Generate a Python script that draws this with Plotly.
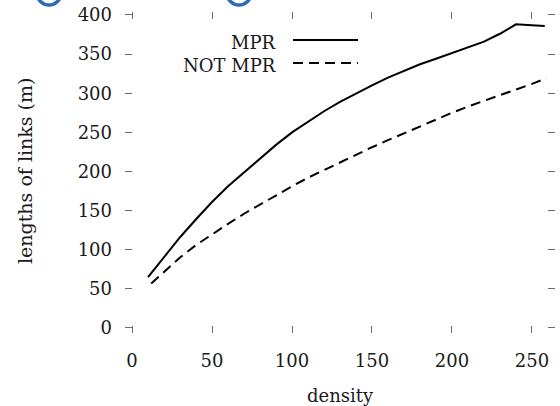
import plotly.graph_objects as go

density = [10, 20, 30, 40, 50, 60, 70, 80, 90, 100, 110, 120, 130, 140, 150,
           160, 170, 180, 190, 200, 210, 220, 230, 240, 250, 258]
mpr = [65, 91, 116, 139, 161, 181, 199, 217, 234, 250, 264, 277, 289, 300, 310,
       320, 329, 337, 344, 351, 358, 366, 376, 388, 387, 386]

density_not = [12, 20, 30, 40, 50, 60, 70, 80, 90, 100, 110, 120, 130, 140, 150,
               160, 170, 180, 190, 200, 210, 220, 230, 240, 250, 259]
not_mpr = [57, 72, 90, 106, 120, 133, 146, 158, 170, 181, 192, 202, 212, 222, 231,
           240, 249, 258, 266, 275, 283, 290, 297, 305, 312, 319]

names = ["MPR", "NOT MPR"]
x_ticks = [0, 50, 100, 150, 200, 250]
y_ticks = [0, 50, 100, 150, 200, 250, 300, 350, 400]

W, H = 560, 406
L, R, T, B = 125, 555, 12, 333
FONT = dict(family="DejaVu Serif", size=18, color="#1a1a1a")

def px(xp):
    return (xp - L) / (R - L)

def py(yp):
    return (B - yp) / (B - T)

fig = go.Figure()
fig.add_trace(go.Scatter(x=density, y=mpr, mode="lines", name=names[0],
                         line=dict(color="black", width=2)))
fig.add_trace(go.Scatter(x=density_not, y=not_mpr, mode="lines", name=names[1],
                         line=dict(color="black", width=2, dash="10px,6px")))

axis_common = dict(showgrid=False, zeroline=False, showline=False,
                   ticks="inside", ticklen=7, tickwidth=1, tickcolor="#6a6a6a",
                   mirror="ticks", tickfont=FONT)

fig.update_xaxes(range=[-4.4, 264.4], tickvals=x_ticks, ticklabelstandoff=15,
                 **axis_common)
fig.update_yaxes(range=[-6.4, 403.8], tickvals=y_ticks, ticklabelstandoff=12,
                 **axis_common)

shapes = []
annotations = []
# legend (gnuplot style: text right-aligned, sample on the right)
leg_y = [40, 63]
dashes = ["solid", "10px,6px"]
for i, nm in enumerate(names):
    annotations.append(dict(text=nm, xref="paper", yref="paper",
                            x=px(278), y=py(leg_y[i] + 2), xanchor="right",
                            yanchor="middle", showarrow=False, font=FONT))
    shapes.append(dict(type="line", xref="paper", yref="paper",
                       x0=px(293), x1=px(358), y0=py(leg_y[i]), y1=py(leg_y[i]),
                       line=dict(color="black", width=2, dash=dashes[i])))

# axis titles
annotations.append(dict(text="density", xref="paper", yref="paper",
                        x=0.5, y=py(395), xanchor="center", yanchor="middle",
                        showarrow=False, font=FONT))
annotations.append(dict(text="lengths of links (m)", xref="paper", yref="paper",
                        x=px(25), y=py(171), xanchor="center", yanchor="middle",
                        textangle=-90, showarrow=False,
                        font=dict(family="DejaVu Serif", size=19, color="#1a1a1a")))

# partial blue ring icons at the top edge
for cx in [49, 239]:
    shapes.append(dict(type="circle", xref="paper", yref="paper",
                       x0=px(cx - 12), x1=px(cx + 12), y0=py(5), y1=py(-19),
                       line=dict(color="#2f6db0", width=3.5)))

fig.update_layout(width=W, height=H, showlegend=False,
                  margin=dict(l=L, r=W - R, t=T, b=H - B),
                  plot_bgcolor="white", paper_bgcolor="white",
                  shapes=shapes, annotations=annotations)

fig.write_html("out.html", config={"displayModeBar": False},
               post_script="document.body.style.margin='0';document.body.style.overflow='hidden';")
